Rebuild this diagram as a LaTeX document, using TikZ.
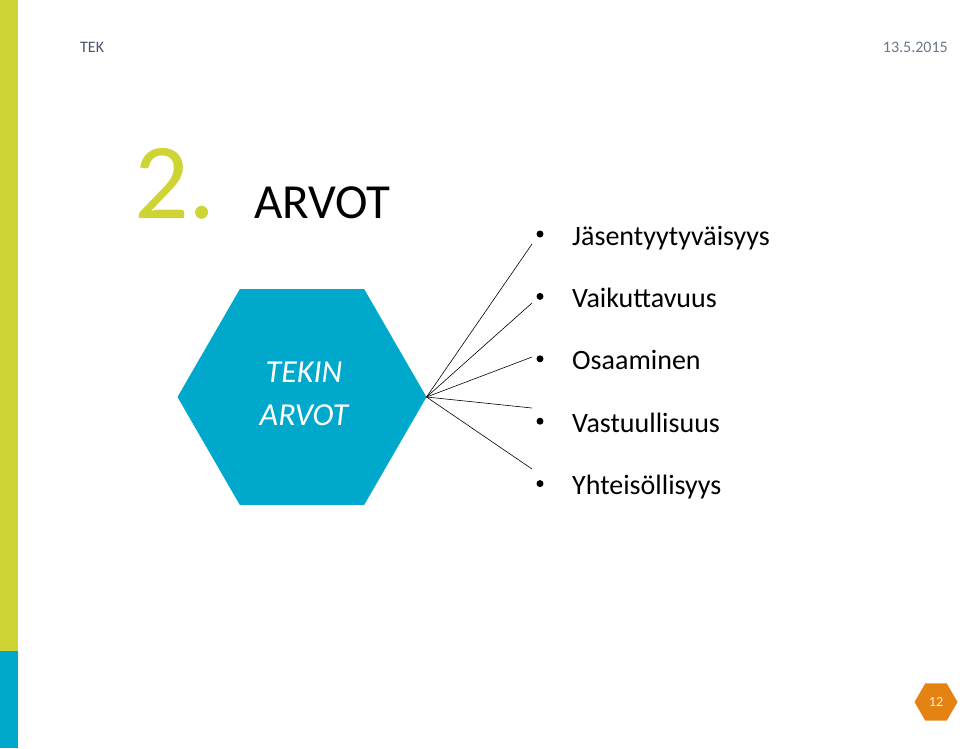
\documentclass[tikz,border=0pt]{standalone}
\usepackage{fontspec}
\setmainfont{Carlito}
\usepackage{xcolor}
\usepackage{tikz}
\usetikzlibrary{positioning,shapes.geometric}

\definecolor{tekgreen}{RGB}{205,212,52}
\definecolor{tekblue}{RGB}{0,169,204}
\definecolor{tekorange}{RGB}{228,131,18}
\definecolor{tekgray}{RGB}{68,84,106}

\tikzset{
	hexa/.style={regular polygon, regular polygon sides=6, inner sep=0pt, outer sep=0pt},
	item/.style={anchor=base west, inner sep=0pt, text height=20pt, text depth=8pt, font=\fontsize{28}{34}\selectfont},
	dot/.style={circle, fill=black, inner sep=0pt, minimum size=7pt},
	link/.style={draw=black, line width=0.6pt},
}

\begin{document}
	\begin{tikzpicture}[x=1pt,y=-1pt]
		\useasboundingbox (0,0) rectangle (960,748);
		\fill[tekgreen] (0,0) rectangle (18,651);
		\fill[tekblue] (0,651) rectangle (18,748);
		
		\node[anchor=base west, inner sep=0pt, text=tekgray, font=\fontsize{16}{19}\selectfont] (tek) at (80,52) {TEK};
		\node[anchor=base east, inner sep=0pt, text=tekgray!80, font=\fontsize{16}{19}\selectfont] (date) at (948,52) {13.5.2015};
		
		\node[anchor=base west, inner sep=0pt, text=tekgreen, font=\fontsize{108}{120}\selectfont] (num) at (134,218) {2.};
		\node[anchor=base west, inner sep=0pt, font=\fontsize{49}{58}\selectfont] (title) at (254,218) {ARVOT};
		
		\node[hexa, minimum size=249pt, fill=tekblue] (arvot) at (302,397) {};
		\node[text=white, align=center, inner sep=0pt, font=\fontsize{32}{43}\selectfont\itshape] (arvott) at (304,394) {TEKIN\\ARVOT};
		
		\node[item] (j1) at (572,245) {Jäsentyytyväisyys};
		\node[item, below=34pt of j1.south west, anchor=north west] (j2) {Vaikuttavuus};
		\node[item, below=34pt of j2.south west, anchor=north west] (j3) {Osaaminen};
		\node[item, below=34pt of j3.south west, anchor=north west] (j4) {Vastuullisuus};
		\node[item, below=34pt of j4.south west, anchor=north west] (j5) {Yhteisöllisyys};
		
		\foreach \i in {1,...,5}{
			\node[dot] (b\i) at ([xshift=-32pt,yshift=11pt]j\i.base west) {};
		}
		
		\coordinate (e1) at (532,244);
		\coordinate (e2) at (532,303);
		\coordinate (e3) at (532,357);
		\coordinate (e4) at (532,408);
		\coordinate (e5) at (532,469);
		\foreach \i in {1,...,5}{
			\draw[link] (arvot.east) -- (e\i);
		}
		
		\node[hexa, minimum size=43pt, fill=tekorange, text=white!90!tekorange, font=\fontsize{14}{16}\selectfont] (page) at (936,702) {12};
	\end{tikzpicture}
\end{document}
